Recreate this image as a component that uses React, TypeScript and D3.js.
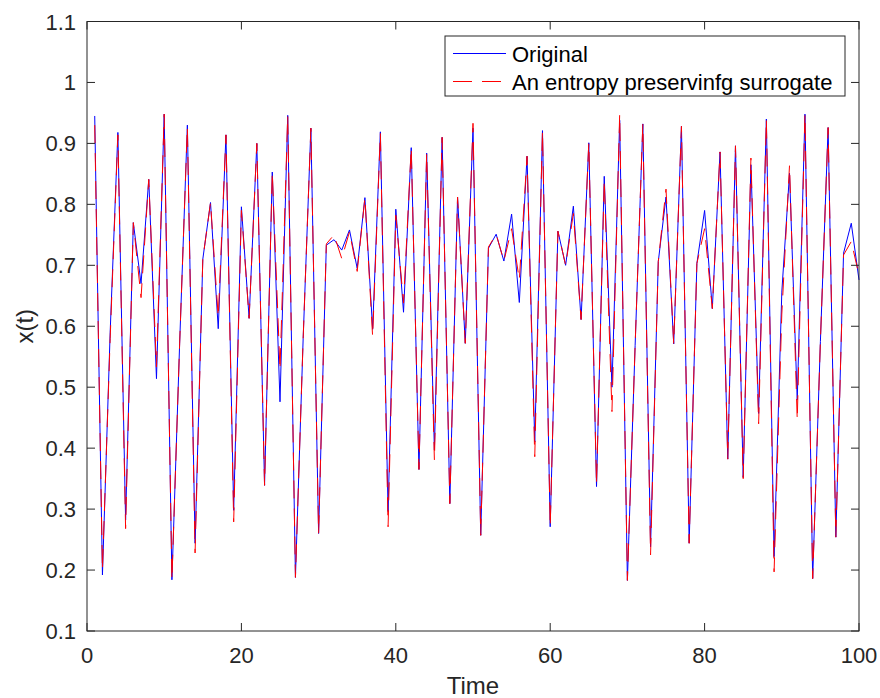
import React from "react";
import * as d3 from "d3";

const timeSteps: number[] = Array.from({ length: 100 }, (_, i) => i + 1);

const original: number[] = [
  0.945, 0.192, 0.59, 0.918, 0.282, 0.77, 0.67, 0.841, 0.514, 0.948,
  0.184, 0.571, 0.93, 0.244, 0.71, 0.803, 0.596, 0.914, 0.298, 0.796,
  0.613, 0.9, 0.339, 0.853, 0.476, 0.946, 0.188, 0.58, 0.925, 0.26,
  0.733, 0.742, 0.725, 0.758, 0.695, 0.811, 0.595, 0.919, 0.296, 0.792,
  0.623, 0.893, 0.365, 0.884, 0.397, 0.91, 0.309, 0.812, 0.572, 0.925,
  0.257, 0.728, 0.751, 0.707, 0.784, 0.639, 0.879, 0.41, 0.921, 0.271,
  0.756, 0.7, 0.797, 0.611, 0.901, 0.337, 0.846, 0.5, 0.938, 0.183,
  0.568, 0.932, 0.238, 0.706, 0.812, 0.571, 0.928, 0.244, 0.703, 0.79,
  0.629, 0.886, 0.382, 0.896, 0.352, 0.865, 0.457, 0.94, 0.222, 0.656,
  0.851, 0.479, 0.948, 0.186, 0.575, 0.926, 0.254, 0.72, 0.769, 0.676,
];

const surrogate: number[] = [
  0.93, 0.2, 0.58, 0.914, 0.268, 0.77, 0.647, 0.841, 0.533, 0.948,
  0.184, 0.571, 0.927, 0.228, 0.71, 0.803, 0.615, 0.914, 0.279, 0.79,
  0.613, 0.9, 0.339, 0.853, 0.528, 0.946, 0.188, 0.58, 0.925, 0.26,
  0.735, 0.75, 0.711, 0.755, 0.69, 0.811, 0.583, 0.917, 0.271, 0.782,
  0.638, 0.893, 0.365, 0.884, 0.38, 0.91, 0.309, 0.812, 0.572, 0.933,
  0.257, 0.73, 0.751, 0.707, 0.76, 0.676, 0.879, 0.386, 0.921, 0.271,
  0.756, 0.7, 0.785, 0.611, 0.901, 0.34, 0.84, 0.46, 0.948, 0.183,
  0.568, 0.932, 0.225, 0.706, 0.825, 0.571, 0.928, 0.244, 0.703, 0.76,
  0.629, 0.886, 0.382, 0.896, 0.35, 0.876, 0.44, 0.94, 0.197, 0.62,
  0.864, 0.446, 0.948, 0.186, 0.575, 0.926, 0.254, 0.717, 0.739, 0.684,
];

const xTicks: number[] = [0, 20, 40, 60, 80, 100];
const yTicks: number[] = [0.1, 0.2, 0.3, 0.4, 0.5, 0.6, 0.7, 0.8, 0.9, 1, 1.1];
const seriesNames: string[] = ["Original", "An entropy preservinfg surrogate"];

const W = 880;
const H = 698;
const left = 87;
const right = 859;
const top = 21.5;
const bottom = 631;
const axisColor = "#262626";
const font = "'Liberation Sans', Arial, Helvetica, sans-serif";

export default function App() {
  const x = d3.scaleLinear().domain([0, 100]).range([left, right]);
  const y = d3.scaleLinear().domain([0.1, 1.1]).range([bottom, top]);
  const line = d3
    .line<number>()
    .x((_, i) => x(timeSteps[i]))
    .y((d) => y(d));
  const tickLen = 8;

  return (
    <svg
      width={W}
      height={H}
      style={{ position: "absolute", left: 0, top: 0, background: "#fff" }}
      fontFamily={font}
    >
      <rect x={0} y={0} width={W} height={H} fill="#fff" />
      <rect x={left} y={top} width={right - left} height={bottom - top} fill="#fff" />

      {/* data */}
      <path d={line(original) || ""} fill="none" stroke="#0000ff" strokeWidth={1} />
      <path
        d={line(surrogate) || ""}
        fill="none"
        stroke="#ff0000"
        strokeWidth={1}
        strokeDasharray="18 10"
      />

      {/* axes box */}
      <rect
        x={left}
        y={top}
        width={right - left}
        height={bottom - top}
        fill="none"
        stroke={axisColor}
        strokeWidth={1}
      />

      {/* x ticks */}
      {xTicks.map((t) => (
        <g key={"x" + t}>
          <line x1={x(t)} x2={x(t)} y1={bottom} y2={bottom - tickLen} stroke={axisColor} />
          <line x1={x(t)} x2={x(t)} y1={top} y2={top + tickLen} stroke={axisColor} />
          <text x={x(t)} y={bottom + 32} textAnchor="middle" fontSize={22} fill={axisColor}>
            {t}
          </text>
        </g>
      ))}

      {/* y ticks */}
      {yTicks.map((t) => (
        <g key={"y" + t}>
          <line x1={left} x2={left + tickLen} y1={y(t)} y2={y(t)} stroke={axisColor} />
          <line x1={right} x2={right - tickLen} y1={y(t)} y2={y(t)} stroke={axisColor} />
          <text x={left - 11} y={y(t) + 8} textAnchor="end" fontSize={22} fill={axisColor}>
            {t}
          </text>
        </g>
      ))}

      {/* axis labels */}
      <text x={(left + right) / 2} y={694} textAnchor="middle" fontSize={24} fill={axisColor}>
        Time
      </text>
      <text
        transform={`translate(33, ${(top + bottom) / 2}) rotate(-90)`}
        textAnchor="middle"
        fontSize={24}
        fill={axisColor}
      >
        x(t)
      </text>

      {/* legend */}
      <g>
        <rect x={445} y={36} width={400} height={60} fill="#fff" stroke={axisColor} strokeWidth={1} />
        <line x1={453} x2={506} y1={53.5} y2={53.5} stroke="#0000ff" strokeWidth={1} />
        <line
          x1={453}
          x2={506}
          y1={81.5}
          y2={81.5}
          stroke="#ff0000"
          strokeWidth={1}
          strokeDasharray="19 10"
        />
        <text x={512} y={61.5} fontSize={22} fill="#000">
          {seriesNames[0]}
        </text>
        <text x={512} y={89.5} fontSize={22} fill="#000">
          {seriesNames[1]}
        </text>
      </g>
    </svg>
  );
}
